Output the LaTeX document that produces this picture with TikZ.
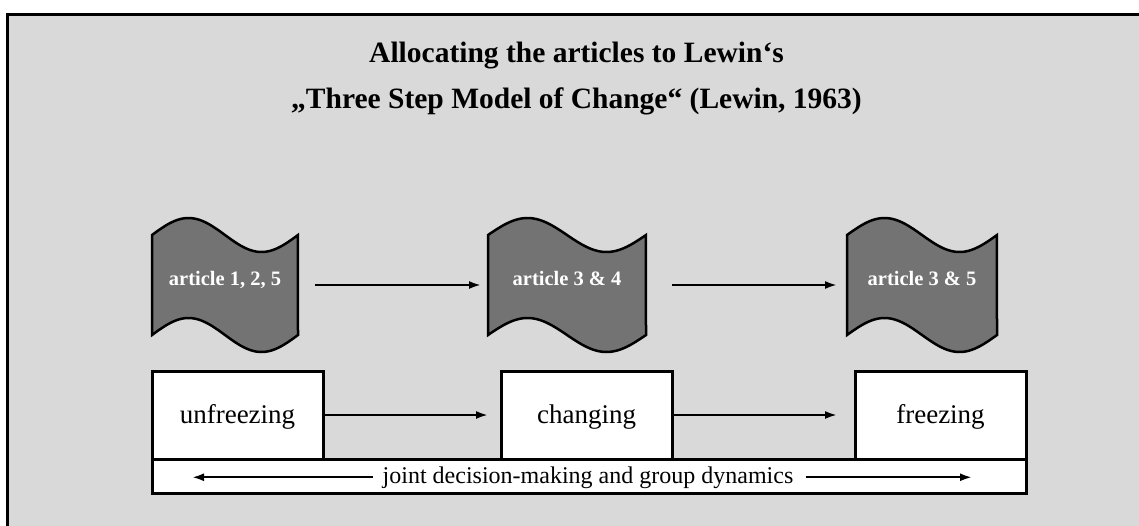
\documentclass[tikz,border=0pt]{standalone}
\usepackage{fontspec}
\setmainfont{Liberation Serif}
\usetikzlibrary{arrows.meta}
\definecolor{panel}{HTML}{D9D9D9}
\definecolor{flaggray}{HTML}{737373}

% wavy flag outline between a left and a right edge (y axis points down)
\newcommand\wavyflag[2]{%
  \filldraw[fill=flaggray, line width=2.5pt]
    plot[domain=0:1, samples=60, smooth] ({#1+(#2-#1)*\x},{235-17*sin(360*\x)})
    -- plot[domain=1:0, samples=60, smooth] ({#1+(#2-#1)*\x},{335-17*sin(360*\x)})
    -- cycle;}

\begin{document}
\begin{tikzpicture}[x=1pt, y=-1pt,
  flag/.style={draw=none, minimum height=100pt, inner sep=0pt, outer sep=0pt},
  flagtext/.style={text=white, font=\fontsize{20.5}{24}\selectfont\bfseries, inner sep=0pt},
  stage/.style={draw, line width=3pt, fill=white, minimum width=171pt, minimum height=88pt,
    inner sep=0pt, outer sep=0pt, font=\fontsize{27}{32}\selectfont, text height=18pt, text depth=2pt},
  conn/.style={line width=2.2pt, -{Latex[length=12pt,width=8pt]}},
  heading/.style={font=\fontsize{29.5}{34}\selectfont\bfseries, inner sep=0pt, anchor=base},
]
\useasboundingbox (0,0) rectangle (1139,525);
\fill[white] (0,0) rectangle (1139,525);
% panel with frame (continues past the lower right edge)
\filldraw[fill=panel, line width=3pt] (7.5,14) rectangle (1160,545);

% heading
\node[heading] (h1) at (576.5,62) {Allocating the articles to Lewin‘s};
\node[heading] (h2) at (576.5,108) {„Three Step Model of Change“ (Lewin, 1963)};

% article flags
\wavyflag{152}{298}
\wavyflag{488}{646}
\wavyflag{847}{997}
\node[flag, minimum width=146pt] (f1) at (225,285) {};
\node[flag, minimum width=158pt] (f2) at (567,285) {};
\node[flag, minimum width=150pt] (f3) at (922,285) {};
\node[flagtext, anchor=base] (t1) at (225,285) {article 1, 2, 5};
\node[flagtext, anchor=base] (t2) at (567,285) {article 3 \& 4};
\node[flagtext, anchor=base] (t3) at (922,285) {article 3 \& 5};
\draw[conn, shorten <=17pt, shorten >=7pt] (f1.east) -- (f2.west);
\draw[conn, shorten <=26pt, shorten >=10pt] (f2.east) -- (f3.west);

% bottom bar
\node[draw, line width=3pt, fill=white, minimum width=874pt, minimum height=34pt,
  inner sep=0pt, outer sep=0pt] (bar) at (589,476) {};
\node[font=\fontsize{24}{28}\selectfont, inner sep=0pt, anchor=base] (jd) at (588,483)
  {joint decision-making and group dynamics};
\draw[conn, shorten <=10pt, shorten >=40pt] (jd.west) -- (jd.west -| bar.west);
\draw[conn, shorten <=12pt, shorten >=54pt] (jd.east) -- (jd.east -| bar.east);

% stages
\node[stage] (b1) at (237.5,415) {unfreezing};
\node[stage] (b2) at (586.5,415) {changing};
\node[stage] (b3) at (940.5,415) {freezing};
\draw[conn, shorten >=13pt] (b1.east) -- (b2.west);
\draw[conn, shorten >=18pt] (b2.east) -- (b3.west);
\end{tikzpicture}
\end{document}
